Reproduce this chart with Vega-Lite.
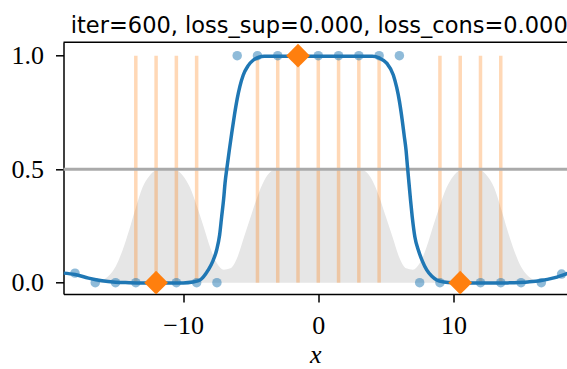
{
  "$schema": "https://vega.github.io/schema/vega-lite/v6.json",
  "width": 503.5,
  "height": 251.7,
  "autosize": {"type": "none"},
  "padding": {"left": 63.5, "top": 42.3, "right": 0, "bottom": 75},
  "background": "white",
  "title": {"text": "iter=600, loss_sup=0.000, loss_cons=0.000", "font": "DejaVu Sans", "fontSize": 22.5, "fontWeight": "normal", "color": "black", "anchor": "middle", "frame": "group", "dx": 4, "dy": 27, "baseline": "alphabetic", "offset": 13},
  "config": {
    "view": {"stroke": null},
    "axis": {"domainColor": "black", "domainWidth": 1.5, "tickColor": "black", "tickWidth": 1.5, "tickSize": 8, "labelFont": "Liberation Serif", "labelFontSize": 26, "labelColor": "black", "grid": false, "titleFont": "Liberation Serif", "titleFontStyle": "italic", "titleFontWeight": "normal", "titleFontSize": 26, "titleColor": "black"}
  },
  "resolve": {"axis": {"x": "independent", "y": "independent"}},
  "datasets": {
    "gray": [
      {"x": -18.85, "y": 0}, {"x": -16.5, "y": 0}, {"x": -16, "y": 0.01}, {"x": -15.5, "y": 0.03}, {"x": -15, "y": 0.07}, {"x": -14.5, "y": 0.14}, {"x": -14, "y": 0.23}, {"x": -13.5, "y": 0.33}, {"x": -13, "y": 0.42}, {"x": -12.5, "y": 0.47}, {"x": -12, "y": 0.495}, {"x": -11.5, "y": 0.5}, {"x": -11, "y": 0.5}, {"x": -10.5, "y": 0.495}, {"x": -10, "y": 0.47}, {"x": -9.5, "y": 0.42}, {"x": -9, "y": 0.34}, {"x": -8.5, "y": 0.25}, {"x": -8, "y": 0.155}, {"x": -7.5, "y": 0.085}, {"x": -7, "y": 0.057}, {"x": -6.5, "y": 0.063}, {"x": -6, "y": 0.11}, {"x": -5.5, "y": 0.2}, {"x": -5, "y": 0.29}, {"x": -4.5, "y": 0.38}, {"x": -4, "y": 0.45}, {"x": -3.5, "y": 0.49}, {"x": -3, "y": 0.5}, {"x": 0, "y": 0.5},
      {"x": 3, "y": 0.5}, {"x": 3.5, "y": 0.49}, {"x": 4, "y": 0.45}, {"x": 4.5, "y": 0.38}, {"x": 5, "y": 0.29}, {"x": 5.5, "y": 0.2}, {"x": 6, "y": 0.11}, {"x": 6.5, "y": 0.063}, {"x": 7, "y": 0.057}, {"x": 7.5, "y": 0.085}, {"x": 8, "y": 0.155}, {"x": 8.5, "y": 0.25}, {"x": 9, "y": 0.34}, {"x": 9.5, "y": 0.42}, {"x": 10, "y": 0.47}, {"x": 10.5, "y": 0.495}, {"x": 11, "y": 0.5}, {"x": 11.5, "y": 0.5}, {"x": 12, "y": 0.495}, {"x": 12.5, "y": 0.47}, {"x": 13, "y": 0.42}, {"x": 13.5, "y": 0.33}, {"x": 14, "y": 0.23}, {"x": 14.5, "y": 0.14}, {"x": 15, "y": 0.07}, {"x": 15.5, "y": 0.03}, {"x": 16, "y": 0.01}, {"x": 16.5, "y": 0}, {"x": 18.85, "y": 0}
    ],
    "vlines": [
      {"x": -13.5}, {"x": -12}, {"x": -10.5}, {"x": -9}, {"x": -4.5}, {"x": -3}, {"x": -1.5}, {"x": 0}, {"x": 1.5}, {"x": 3}, {"x": 4.5}, {"x": 9}, {"x": 10.5}, {"x": 12}, {"x": 13.5}
    ],
    "dots": [
      {"x": -18, "y": 0.042}, {"x": -16.5, "y": 0}, {"x": -15, "y": 0}, {"x": -13.5, "y": 0}, {"x": -12, "y": 0}, {"x": -10.5, "y": 0}, {"x": -9, "y": 0}, {"x": -7.5, "y": 0},
      {"x": -6, "y": 1}, {"x": -4.5, "y": 1}, {"x": -3, "y": 1}, {"x": -1.5, "y": 1}, {"x": 0, "y": 1}, {"x": 1.5, "y": 1}, {"x": 3, "y": 1}, {"x": 4.5, "y": 1}, {"x": 6, "y": 1},
      {"x": 7.5, "y": 0}, {"x": 9, "y": 0}, {"x": 10.5, "y": 0}, {"x": 12, "y": 0}, {"x": 13.5, "y": 0}, {"x": 15, "y": 0}, {"x": 16.5, "y": 0}, {"x": 18, "y": 0.038}
    ],
    "curve": [
      {"x": -18.85, "y": 0.042}, {"x": -18, "y": 0.036}, {"x": -17, "y": 0.02}, {"x": -16, "y": 0.008}, {"x": -15, "y": 0.002}, {"x": -14, "y": 0}, {"x": -12, "y": -0.002}, {"x": -10, "y": -0.001}, {"x": -9.3, "y": 0.003}, {"x": -8.75, "y": 0.012}, {"x": -8.14, "y": 0.056}, {"x": -7.8, "y": 0.095}, {"x": -7.52, "y": 0.144}, {"x": -7.3, "y": 0.21}, {"x": -7.15, "y": 0.29}, {"x": -7.0, "y": 0.37}, {"x": -6.9, "y": 0.438}, {"x": -6.75, "y": 0.51}, {"x": -6.58, "y": 0.585}, {"x": -6.4, "y": 0.66}, {"x": -6.2, "y": 0.74}, {"x": -6.0, "y": 0.81}, {"x": -5.8, "y": 0.865}, {"x": -5.55, "y": 0.915}, {"x": -5.2, "y": 0.955}, {"x": -4.8, "y": 0.981}, {"x": -4.4, "y": 0.993}, {"x": -4.0, "y": 0.997}, {"x": 0, "y": 0.998}, {"x": 4.0, "y": 0.997}, {"x": 4.5, "y": 0.99}, {"x": 5.06, "y": 0.967}, {"x": 5.55, "y": 0.915}, {"x": 5.8, "y": 0.86}, {"x": 6.0, "y": 0.8}, {"x": 6.2, "y": 0.72}, {"x": 6.35, "y": 0.65}, {"x": 6.49, "y": 0.585}, {"x": 6.6, "y": 0.51}, {"x": 6.71, "y": 0.438}, {"x": 6.83, "y": 0.36}, {"x": 6.95, "y": 0.29}, {"x": 7.15, "y": 0.2}, {"x": 7.4, "y": 0.144}, {"x": 7.7, "y": 0.095}, {"x": 8.02, "y": 0.056}, {"x": 8.4, "y": 0.028}, {"x": 8.76, "y": 0.012}, {"x": 9.3, "y": 0.003}, {"x": 10, "y": 0}, {"x": 12, "y": -0.002}, {"x": 14, "y": -0.001}, {"x": 14.5, "y": 0}, {"x": 15.5, "y": 0.003}, {"x": 16.4, "y": 0.008}, {"x": 17.5, "y": 0.022}, {"x": 18.4, "y": 0.04}, {"x": 18.85, "y": 0.05}
    ],
    "diamonds": [
      {"x": -12, "y": 0}, {"x": -1.5, "y": 1}, {"x": 10.5, "y": 0}
    ]
  },
  "layer": [
    {
      "data": {"name": "gray"},
      "mark": {"type": "area", "color": "#e6e6e6", "clip": true, "interpolate": "monotone"},
      "encoding": {
        "x": {"field": "x", "type": "quantitative", "scale": {"domain": [-18.85, 18.4], "nice": false, "zero": false}, "axis": {"values": [-10, 0, 10], "format": "d", "title": "x", "labelPadding": 10, "titlePadding": 3}},
        "y": {"field": "y", "type": "quantitative", "scale": {"domain": [-0.05, 1.059], "nice": false, "zero": false}, "axis": {"values": [0, 0.5, 1], "format": ".1f", "title": null, "labelPadding": 12}},
        "y2": {"datum": 0}
      }
    },
    {
      "data": {"name": "vlines"},
      "mark": {"type": "rule", "color": "#ff7f0e", "opacity": 0.3, "strokeWidth": 3.5, "clip": true},
      "encoding": {
        "x": {"field": "x", "type": "quantitative", "axis": null},
        "y": {"datum": 0, "axis": null},
        "y2": {"datum": 1}
      }
    },
    {
      "data": {"values": [{}]},
      "mark": {"type": "rule", "color": "#aaaaaa", "strokeWidth": 3},
      "encoding": {"y": {"datum": 0.5, "axis": null}}
    },
    {
      "data": {"values": [{}]},
      "mark": {"type": "rule", "color": "black", "strokeWidth": 1.5},
      "encoding": {"y": {"datum": 1.059, "axis": null}}
    },
    {
      "data": {"name": "dots"},
      "mark": {"type": "point", "filled": true, "color": "#1f77b4", "opacity": 0.5, "size": 90, "clip": true},
      "encoding": {
        "x": {"field": "x", "type": "quantitative", "axis": null},
        "y": {"field": "y", "type": "quantitative", "axis": null}
      }
    },
    {
      "data": {"name": "curve"},
      "mark": {"type": "line", "color": "#1f77b4", "strokeWidth": 3.5, "interpolate": "monotone", "clip": true},
      "encoding": {
        "x": {"field": "x", "type": "quantitative", "axis": null},
        "y": {"field": "y", "type": "quantitative", "axis": null}
      }
    },
    {
      "data": {"name": "diamonds"},
      "mark": {"type": "point", "shape": "diamond", "filled": true, "color": "#ff7f0e", "opacity": 1, "size": 560, "clip": true},
      "encoding": {
        "x": {"field": "x", "type": "quantitative", "axis": null},
        "y": {"field": "y", "type": "quantitative", "axis": null}
      }
    }
  ]
}
